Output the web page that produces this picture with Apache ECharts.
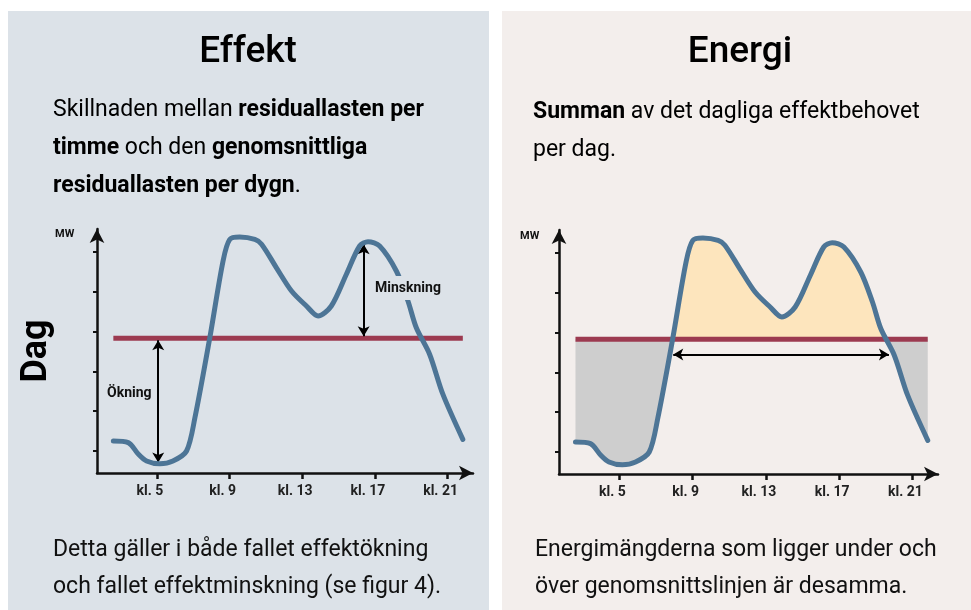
<!DOCTYPE html>
<html>
<head>
<meta charset="utf-8">
<script src="https://cdn.jsdelivr.net/npm/echarts@6/dist/echarts.min.js"></script>
<style>
  html, body { margin: 0; padding: 0; background: #ffffff; }
  #chart { width: 971px; height: 610px; }
</style>
</head>
<body>
<div id="chart"></div>
<script>
// hour of day (x) and residual load (y, arbitrary MW units)
const hours = [2.6, 3.42, 3.97, 4.43, 5.16, 5.88, 6.63, 7.09, 7.91, 8.64, 9.01, 9.56, 10.39, 10.76,
  11.58, 12.41, 13.23, 13.87, 14.6, 15.43, 16.16, 16.62, 17.26, 18.18, 18.82, 19.28, 20.01, 20.74, 21.84]
const load = [8.0, 7.6, 4.75, 3.0, 2.3, 3.0, 5.5, 13.8, 33.8, 53, 58.4, 59, 58.4, 57.2,
  51.3, 45.5, 41.75, 39.25, 41.75, 49.7, 56.75, 57.8, 56.75, 50.5, 43, 36.3, 29.7, 19.7, 8.4]
const average = 33.7
const hourTicks = [5, 9, 13, 17, 21]
const hourLabels = ['kl. 5', 'kl. 9', 'kl. 13', 'kl. 17', 'kl. 21']
const mwTicks = [5.5, 15.5, 25.4, 35.3, 45.3, 55.3]
// annotation arrows: [x1, y1, x2, y2]
const okningArrow = [5.07, 33.2, 5.07, 2.6]
const minskningArrow = [16.38, 57.2, 16.38, 34.2]
const spanArrow = [7.94, 29.9, 19.72, 29.9]

const curveColor = '#4d7596'
const avgColor = '#9c3a50'
const fontMain = 'Roboto, "Liberation Sans", sans-serif'

const points = hours.map((h, i) => [h, load[i]])
const avgLine = [[hours[0], average], [hours[hours.length - 1], average]]

function xAxisFor(gridIndex) {
  return {
    type: 'value',
    gridIndex: gridIndex,
    min: 1.7,
    max: 22.4,
    splitLine: { show: false },
    axisLine: {
      show: true,
      lineStyle: { color: '#111', width: 2.5 },
      symbol: ['none', 'arrow'],
      symbolSize: [11, 14]
    },
    axisTick: {
      show: true,
      customValues: hourTicks,
      length: 6,
      lineStyle: { color: '#111', width: 2.5 }
    },
    axisLabel: {
      customValues: hourTicks,
      formatter: v => hourLabels[hourTicks.indexOf(v)],
      color: '#222',
      fontWeight: 'bold',
      fontSize: 14,
      fontFamily: fontMain,
      margin: 11,
      padding: [0, 14, 0, 0]
    }
  }
}

function yAxisFor(gridIndex) {
  return {
    type: 'value',
    gridIndex: gridIndex,
    min: 0,
    max: 61,
    splitLine: { show: false },
    axisLine: {
      show: true,
      lineStyle: { color: '#111', width: 2.5 },
      symbol: ['none', 'arrow'],
      symbolSize: [11, 14]
    },
    axisTick: {
      show: true,
      customValues: mwTicks,
      length: 4,
      lineStyle: { color: '#111', width: 2 }
    },
    axisLabel: { show: false }
  }
}

function arrow(a, idx) {
  return {
    type: 'line',
    xAxisIndex: idx,
    yAxisIndex: idx,
    data: [],
    silent: true,
    z: 6,
    markLine: {
      silent: true,
      symbol: ['arrow', 'arrow'],
      symbolSize: [9, 10],
      label: { show: false },
      lineStyle: { color: '#000', width: 2, type: 'solid' },
      emphasis: { disabled: true },
      animation: false,
      data: [[{ coord: [a[0], a[1]] }, { coord: [a[2], a[3]] }]]
    }
  }
}

function curve(idx) {
  return {
    type: 'line',
    xAxisIndex: idx,
    yAxisIndex: idx,
    data: points,
    smooth: 0.3,
    showSymbol: false,
    lineStyle: { color: curveColor, width: 5, cap: 'round' },
    z: 5
  }
}

function avg(idx) {
  return {
    type: 'line',
    xAxisIndex: idx,
    yAxisIndex: idx,
    data: avgLine,
    showSymbol: false,
    lineStyle: { color: avgColor, width: 5 },
    z: 4
  }
}

function text(x, y, str, size, bold, extra) {
  return {
    type: 'text', x: x, y: y, z: 100,
    style: Object.assign({
      text: str, fontSize: size, fontWeight: bold ? 'bold' : 'normal',
      fontFamily: fontMain, fill: '#111', verticalAlign: 'middle'
    }, extra || {})
  }
}

function richLine(x, y, parts) {
  // parts: [[text, bold], ...]
  const rich = {
    n: { fontSize: 23, fontFamily: fontMain, color: '#111' },
    b: { fontSize: 23, fontFamily: fontMain, color: '#111', fontWeight: 'bold' }
  }
  return {
    type: 'text', x: x, y: y,
    style: {
      text: parts.map(p => '{' + (p[1] ? 'b' : 'n') + '|' + p[0] + '}').join(''),
      rich: rich,
      verticalAlign: 'middle'
    }
  }
}

const chart = echarts.init(document.getElementById('chart'), null, { renderer: 'canvas' })

chart.setOption({
  animation: false,
  backgroundColor: '#ffffff',
  grid: [
    { left: 97, top: 229, width: 376, height: 244 },
    { left: 559, top: 230, width: 379, height: 244 }
  ],
  xAxis: [xAxisFor(0), xAxisFor(1)],
  yAxis: [yAxisFor(0), yAxisFor(1)],
  visualMap: {
    show: false,
    type: 'piecewise',
    seriesIndex: 0,
    dimension: 1,
    pieces: [
      { min: -100, max: average, color: '#cecece' },
      { min: average, max: 200, color: '#fde5bd' }
    ]
  },
  series: [
    {
      // fill between curve and average line (right panel)
      type: 'line',
      xAxisIndex: 1,
      yAxisIndex: 1,
      data: points,
      smooth: 0.3,
      showSymbol: false,
      lineStyle: { width: 0 },
      areaStyle: { origin: average, opacity: 1 },
      z: 2
    },
    avg(0),
    curve(0),
    avg(1),
    curve(1),
    arrow(okningArrow, 0),
    arrow(minskningArrow, 0),
    arrow(spanArrow, 1)
  ],
  graphic: [
    { type: 'rect', shape: { x: 8, y: 11, width: 481, height: 600 }, style: { fill: '#dce2e8' }, z: -10 },
    { type: 'rect', shape: { x: 502, y: 11, width: 469, height: 600 }, style: { fill: '#f3eeec' }, z: -10 },
    text(248, 53, 'Effekt', 37, false, { fontWeight: 500, fill: '#000', align: 'center' }),
    text(740, 53, 'Energi', 37, false, { fontWeight: 500, fill: '#000', align: 'center' }),
    richLine(53, 110, [['Skillnaden mellan ', false], ['residuallasten per', true]]),
    richLine(53, 148, [['timme', true], [' och den ', false], ['genomsnittliga', true]]),
    richLine(53, 186, [['residuallasten per dygn', true], ['.', false]]),
    richLine(533, 112, [['Summan', true], [' av det dagliga effektbehovet', false]]),
    richLine(533, 150, [['per dag.', false]]),
    text(53, 550, 'Detta gäller i både fallet effektökning', 23, false),
    text(53, 587, 'och fallet effektminskning (se figur 4).', 23, false),
    text(535, 550, 'Energimängderna som ligger under och', 23, false),
    text(535, 587, 'över genomsnittslinjen är desamma.', 23, false),
    { type: 'text', x: 37, y: 351, rotation: Math.PI / 2,
      style: { text: 'Dag', fontSize: 36, fontWeight: 'bold', fontFamily: fontMain, fill: '#000', align: 'center', verticalAlign: 'middle' } },
    text(55, 234, 'MW', 11, true),
    text(520, 236, 'MW', 11, true),
    text(107, 393, 'Ökning', 14, true),
    text(373, 288, 'Minskning', 14, true, { backgroundColor: '#dce2e8', padding: [5, 2, 5, 2] })
  ]
})
</script>
</body>
</html>
